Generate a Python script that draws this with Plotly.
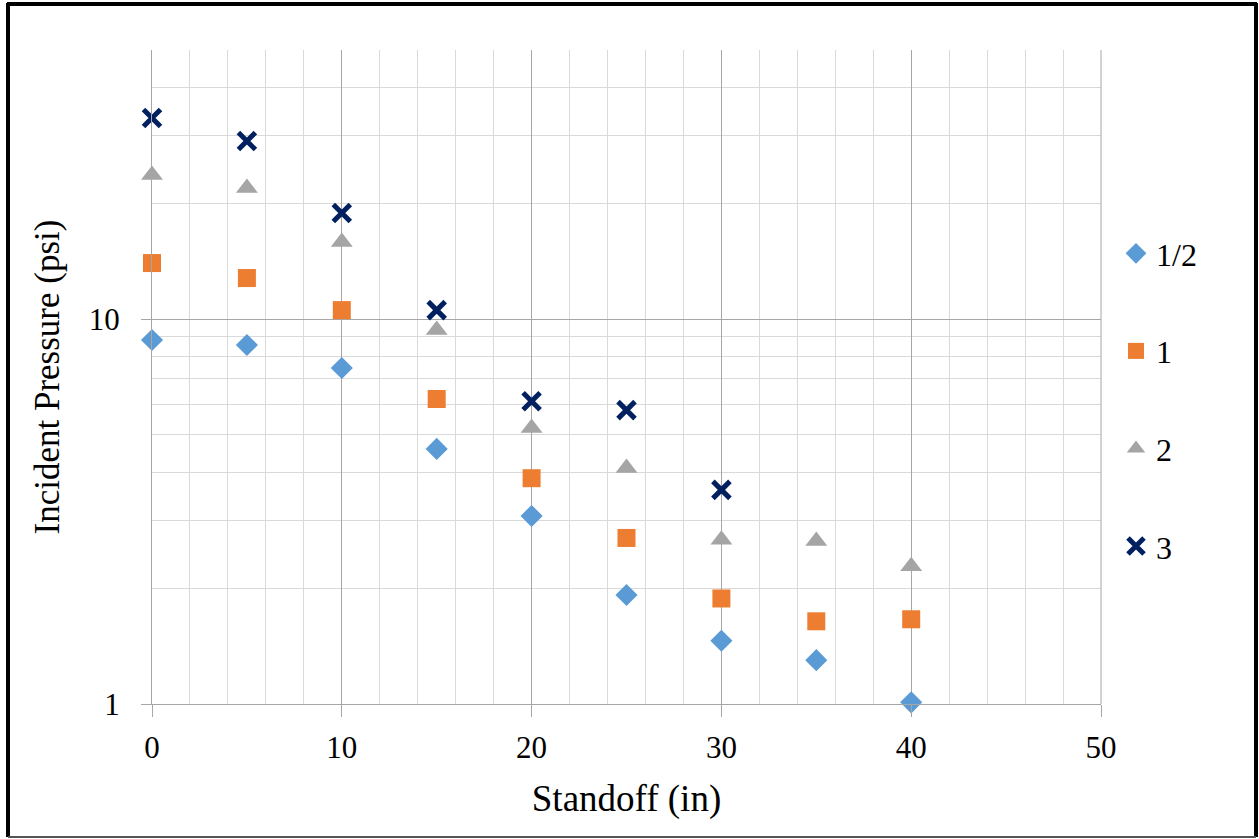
import plotly.graph_objects as go
import math

standoff = [0, 5, 10, 15, 20, 25, 30, 35, 40]
standoff_3 = [0, 5, 10, 15, 20, 25, 30]
p_half = [8.82, 8.56, 7.46, 4.60, 3.08, 1.92, 1.46, 1.30, 1.01]
p_one = [13.98, 12.78, 10.55, 6.20, 3.86, 2.70, 1.88, 1.64, 1.66]
p_two = [23.66, 21.9, 15.85, 9.36, 5.21, 4.10, 2.67, 2.65, 2.28]
p_three = [33.3, 29.0, 18.85, 10.55, 6.12, 5.80, 3.60]

FONT = "Liberation Serif, Times New Roman, serif"

fig = go.Figure()
fig.add_trace(go.Scatter(x=standoff, y=p_half, mode="markers", name="1/2", legendgroup="a", cliponaxis=False,
                         marker=dict(symbol="diamond", size=17, color="#5B9BD5")))
fig.add_trace(go.Scatter(x=standoff, y=p_one, mode="markers", name="1", legendgroup="b", cliponaxis=False,
                         marker=dict(symbol="square", size=18, color="#ED7D31")))
fig.add_trace(go.Scatter(x=standoff, y=p_two, mode="markers", name="2", legendgroup="c", cliponaxis=False,
                         marker=dict(symbol="triangle-up", size=19, color="#A5A5A5")))
fig.add_trace(go.Scatter(x=standoff_3, y=p_three, mode="markers", name="3", legendgroup="d", cliponaxis=False,
                         marker=dict(symbol="x-thin", size=17, color="#002060",
                                     line=dict(color="#002060", width=5))))

L, R, T, B = 152, 158, 50, 135
W, H = 1259, 839
pw, ph = W - L - R, H - T - B

def px_x(px):
    return (px - L) / pw

def px_y(py):
    return (H - B - py) / ph

fig.update_layout(
    width=W, height=H,
    margin=dict(l=L, r=R, t=T, b=B),
    paper_bgcolor="white", plot_bgcolor="white",
    font=dict(family=FONT, color="black", size=31),
    showlegend=True,
    legend=dict(x=px_x(1116), xanchor="left", y=px_y(226), yanchor="top",
                font=dict(size=32, family=FONT), tracegroupgap=53,
                itemsizing="trace", itemwidth=30, bgcolor="rgba(0,0,0,0)"),
    xaxis=dict(range=[0, 50], dtick=10, tick0=0, showgrid=True, gridcolor="#A6A6A6", gridwidth=1,
               zeroline=False, showline=True, linecolor="#A6A6A6", linewidth=1, mirror=False,
               ticks="outside", ticklen=12, tickcolor="#A6A6A6", ticklabelstandoff=4,
               minor=dict(dtick=2, showgrid=True, gridcolor="#D9D9D9", gridwidth=1),
               title=dict(text="Standoff (in)", font=dict(size=37, family=FONT), standoff=20),
               tickfont=dict(size=31, family=FONT)),
    yaxis=dict(type="log", range=[0, math.log10(50)], tickvals=[1, 10], ticktext=["1", "10"],
               showgrid=True, gridcolor="#A6A6A6", gridwidth=1,
               zeroline=False, showline=True, linecolor="#A6A6A6", linewidth=1,
               ticks="outside", ticklen=10, tickcolor="#A6A6A6", ticklabelstandoff=15,
               minor=dict(tickvals=[2, 3, 4, 5, 6, 7, 8, 9, 20, 30, 40, 50], showgrid=True,
                          gridcolor="#D9D9D9", gridwidth=1),
               title=dict(text="Incident Pressure (psi)", font=dict(size=35, family=FONT), standoff=18),
               tickfont=dict(size=31, family=FONT)),
)

# right edge major line at x=50
fig.add_shape(type="line", xref="paper", yref="paper", x0=1, x1=1, y0=0, y1=1,
              line=dict(color="#A6A6A6", width=1))

# outer frame
fig.add_shape(type="line", xref="paper", yref="paper", x0=px_x(7), x1=px_x(1257), y0=px_y(4), y1=px_y(4),
              line=dict(color="black", width=4))
fig.add_shape(type="line", xref="paper", yref="paper", x0=px_x(8), x1=px_x(8), y0=px_y(3), y1=px_y(837),
              line=dict(color="black", width=4))
fig.add_shape(type="line", xref="paper", yref="paper", x0=px_x(1256), x1=px_x(1256), y0=px_y(3), y1=px_y(837),
              line=dict(color="black", width=4))
fig.add_shape(type="line", xref="paper", yref="paper", x0=px_x(8), x1=px_x(1256), y0=px_y(837), y1=px_y(837),
              line=dict(color="#555555", width=2))

fig.write_html("out.html", config={"displayModeBar": False},
               post_script="document.body.style.margin='0';document.body.style.overflow='hidden';")
